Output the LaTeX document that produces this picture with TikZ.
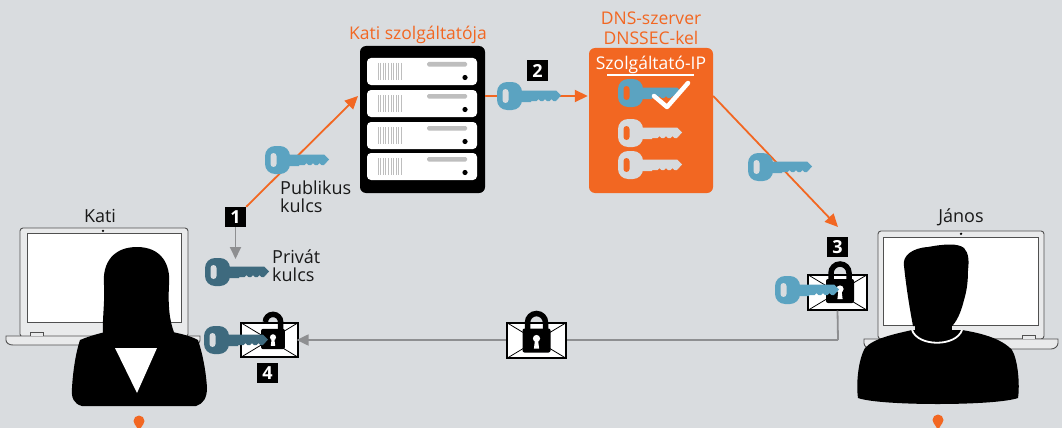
\documentclass[tikz,border=0pt]{standalone}
\usepackage{fontspec}
\setmainfont{Open Sans}
\usetikzlibrary{arrows.meta}
\definecolor{bg}{HTML}{D9DCDF}
\definecolor{orng}{HTML}{F26722}
\definecolor{keyblue}{HTML}{5BA3C1}
\definecolor{keydark}{HTML}{3E6A7E}
\definecolor{keygray}{HTML}{D7DADD}
\definecolor{linegray}{HTML}{8E8F91}
\definecolor{frame}{HTML}{505050}
\definecolor{bezel}{HTML}{E9EAEB}
\definecolor{slotgray}{HTML}{BEBEBE}

\tikzset{
  % key: #1 = key colour, #2 = colour seen through the hole
  pics/key/.style n args={2}{code={
    \fill[#1, rounded corners=10] (0,-14) rectangle (25,14);
    \fill[#2, rounded corners=3] (5.5,-7) rectangle (11.5,7);
    \fill[#1] (22,-5.5) -- (59,-5.5) -- (64,-0.5) -- (59,5) -- (56.5,5)
      .. controls (56,2.5) and (53,2.5) .. (52.5,5) -- (50,5)
      .. controls (49.5,2.5) and (46.5,2.5) .. (46,5) -- (43.5,5)
      .. controls (43,2.5) and (40,2.5) .. (39.5,5) -- (34,5) -- (34,6) -- (22,6) -- cycle;
  }},
  % padlock, closed
  pics/lockshut/.style={code={
    \draw[black, line width=5.5] (-9,-10) -- (-9,-18) arc(180:360:9) -- (9,-10);
    \fill[black, rounded corners=2] (-14,-12) rectangle (14,12);
    \fill[white] (0,-2) circle (3.6);
    \fill[white] (-1.6,0) -- (1.6,0) -- (2.6,8) -- (-2.6,8) -- cycle;
  }},
  % padlock, open
  pics/lockopen/.style={code={
    \draw[black, line width=5.5] (-9,-20) arc(180:360:9) -- (9,-10);
    \fill[black, rounded corners=2] (-14,-12) rectangle (14,12);
    \fill[white] (0,-2) circle (3.6);
    \fill[white] (-1.6,0) -- (1.6,0) -- (2.6,8) -- (-2.6,8) -- cycle;
  }},
  envelope/.style={draw=black, fill=white, line width=1.1, minimum width=#1, minimum height=35, inner sep=0},
  badge/.style={fill=black, text=white, font=\bfseries\fontsize{18}{18}\selectfont, minimum width=21, minimum height=20, inner sep=0},
  lbl/.style={font=\fontsize{18}{18}\selectfont, text=black!90, inner sep=0},
  ttl/.style={font=\fontsize{17.5}{20}\selectfont, text=orng, inner sep=0},
  oarrow/.style={draw=orng, line width=1.8, -{Triangle[length=13,width=12]}},
  garrow/.style={draw=linegray, line width=1.8, -{Triangle[length=12,width=11]}},
  gline/.style={draw=linegray, line width=1.8},
  laptop/.style={draw=frame, line width=0.9},
}

\begin{document}
\begin{tikzpicture}[x=1pt, y=-1pt]
\useasboundingbox (0,0) rectangle (1062,428);
\fill[bg] (0,0) rectangle (1062,428);

% ---------- provider server ----------
\node[fill=black, rounded corners=6, minimum width=125, minimum height=147, inner sep=0] (srv) at (422.5,119.5) {};
\foreach \t in {58,90,122,153} {
  \fill[white, rounded corners=4] (367,\t) rectangle (477,\t+27);
  \foreach \s in {0,...,9} \draw[slotgray, line width=0.8] (378+\s*2.6,\t+5) -- (378+\s*2.6,\t+22);
  \fill[slotgray, rounded corners=1.5] (427,\t+4) rectangle (467,\t+8.5);
  \fill[black] (465,\t+19.5) circle (2.6);
}
\node[ttl] (srvtitle) at (418,35) {Kati szolgáltatója};

% ---------- DNS server ----------
\node[fill=orng, rounded corners=6, minimum width=124, minimum height=145, inner sep=0] (dns) at (651,120.5) {};
\node[ttl, align=center] (dnstitle) at (651,28) {DNS-szerver\\DNSSEC-kel};
\node[font=\fontsize{17.5}{18}\selectfont, text=white, inner sep=0] (dnsip) at (651,65) {Szolgáltató-IP};
\draw[white, line width=1.2] (607,75) -- (694,75);
\pic at (618,93) {key={keyblue}{orng}};
\pic at (618,133) {key={keygray}{orng}};
\pic at (618,165) {key={keygray}{orng}};
\draw[white, line width=4.5, line cap=round, line join=round] (654,96) -- (667,107) -- (688,83);

% ---------- laptops ----------
\fill[bezel, laptop, rounded corners=3] (20,228) rectangle (188,337);
\fill[white, laptop] (27,233) rectangle (181,322);
\fill[black] (103,230.8) circle (1.3);
\filldraw[bezel, laptop] (6,336) -- (200,336) -- (200,340) .. controls (200,343) and (197,345) .. (193,345)
  -- (13,345) .. controls (9,345) and (6,343) .. (6,340) -- cycle;
\filldraw[bezel, laptop] (30,336) -- (30,332.5) -- (43,332.5) -- (43,336);
\node[lbl] (kati) at (100,216) {Kati};

\fill[bezel, laptop, rounded corners=3] (878,231) rectangle (1044,339);
\fill[white, laptop] (883,237) rectangle (1038,325);
\fill[black] (961,233.8) circle (1.3);
\filldraw[bezel, laptop] (864,339) -- (1058,339) -- (1058,343) .. controls (1058,346) and (1055,349) .. (1051,349)
  -- (871,349) .. controls (867,349) and (864,346) .. (864,343) -- cycle;
\filldraw[bezel, laptop] (1022,339) -- (1022,335.5) -- (1035,335.5) -- (1035,339);
\node[lbl] (janos) at (961,217) {János};

% ---------- Kati silhouette ----------
\fill[black] (103,337) .. controls (102,320) and (105,302) .. (104,285)
  .. controls (102,262) and (114,247) .. (137,247)
  .. controls (161,247) and (171,264) .. (169,285)
  .. controls (168,305) and (169,322) .. (176,337) -- cycle;
\fill[black] (80,340) .. controls (92,335) and (104,332) .. (116,330) -- (160,330)
  .. controls (174,332) and (189,335) .. (198,340)
  .. controls (203,355) and (206,372) .. (207,388)
  .. controls (207,398) and (203,404) .. (196,406) -- (82,406)
  .. controls (74,404) and (71,398) .. (72,388)
  .. controls (73,370) and (76,352) .. (80,340) -- cycle;
\fill[white] (115,348) -- (157,348) -- (137,393) -- cycle;
\fill[orng] (139,421) circle (5.5);
\fill[orng] (134.5,423.5) -- (143.5,423.5) -- (139,431) -- cycle;

% ---------- János silhouette ----------
\fill[black] (913,326) .. controls (909,305) and (906,285) .. (904,266)
  .. controls (902,256) and (912,248) .. (928,247)
  .. controls (944,244) and (958,243) .. (964,248)
  .. controls (969,253) and (969,262) .. (968,270)
  .. controls (968,285) and (966,293) .. (964,300)
  .. controls (961,312) and (957,322) .. (950,328) -- cycle;
\fill[black] (915,312) rectangle (952,334);
\fill[black] (912,330) .. controls (895,334) and (874,338) .. (865,348)
  .. controls (858,360) and (856,385) .. (858,398)
  .. controls (880,406) and (995,406) .. (1018,398)
  .. controls (1020,385) and (1018,360) .. (1012,350)
  .. controls (1001,338) and (980,333) .. (962,330) -- cycle;
\draw[white, line width=1.8] (912,330) .. controls (918,347) and (956,347) .. (962,330);
\fill[orng] (938,420) circle (5.5);
\fill[orng] (933.5,422.5) -- (942.5,422.5) -- (938,430) -- cycle;

% ---------- step 1: public and private key ----------
\node[badge] (b1) at (235.5,217) {1};
\coordinate (srvin) at (358,96);
\draw[oarrow] (b1.north east) -- (srvin);
\pic at (265,160) {key={keyblue}{bg}};
\node[lbl, align=left, anchor=north west] (pub) at (280,181) {Publikus\\kulcs};
\coordinate (privtop) at (235.5,259);
\draw[garrow] (b1.south) -- (privtop);
\pic at (205,272) {key={keydark}{bg}};
\node[lbl, align=left, anchor=north west] (priv) at (272,250) {Privát\\kulcs};

% ---------- step 2: key published by the DNS server ----------
\coordinate (k2) at (0,96);
\draw[oarrow] (srv.east |- k2) -- ([xshift=-1]dns.west |- k2);
\pic at (497,96) {key={keyblue}{bg}};
\node[badge] (b2) at (537.5,70.5) {2};

% ---------- step 3: János locks the message ----------
\coordinate (envin) at (838,227);
\draw[oarrow] (dns.east |- k2) -- (envin);
\pic at (748,167) {key={keyblue}{bg}};
\node[badge] (b3) at (837.5,247) {3};
\node[envelope=59] (env3) at (837.5,292.5) {};
\draw[line width=0.8] (env3.north west) -- (env3.south east) (env3.south west) -- (env3.north east);
\pic at (840,291) {lockshut};
\pic at (775,290) {key={keyblue}{bg}};

% ---------- message on its way back ----------
\node[envelope=57, minimum height=34] (env4) at (269.5,340) {};
\coordinate (turn) at (838,340);
\draw[gline] (env3.south) -- (turn);
\draw[garrow] (turn) -- ([xshift=-2]env4.east);
\node[envelope=59] (envm) at (536.5,340.5) {};
\draw[line width=0.8] (envm.north west) -- (envm.south east) (envm.south west) -- (envm.north east);
\pic at (536.5,340.5) {lockshut};

% ---------- step 4: Kati opens it ----------
\draw[line width=0.8] (env4.north west) -- (env4.south east) (env4.south west) -- (env4.north east);
\pic[scale=0.85] at (273,339) {lockopen};
\pic at (204,340) {key={keydark}{bg}};
\node[badge] (b4) at (267.5,373) {4};
\end{tikzpicture}
\end{document}
